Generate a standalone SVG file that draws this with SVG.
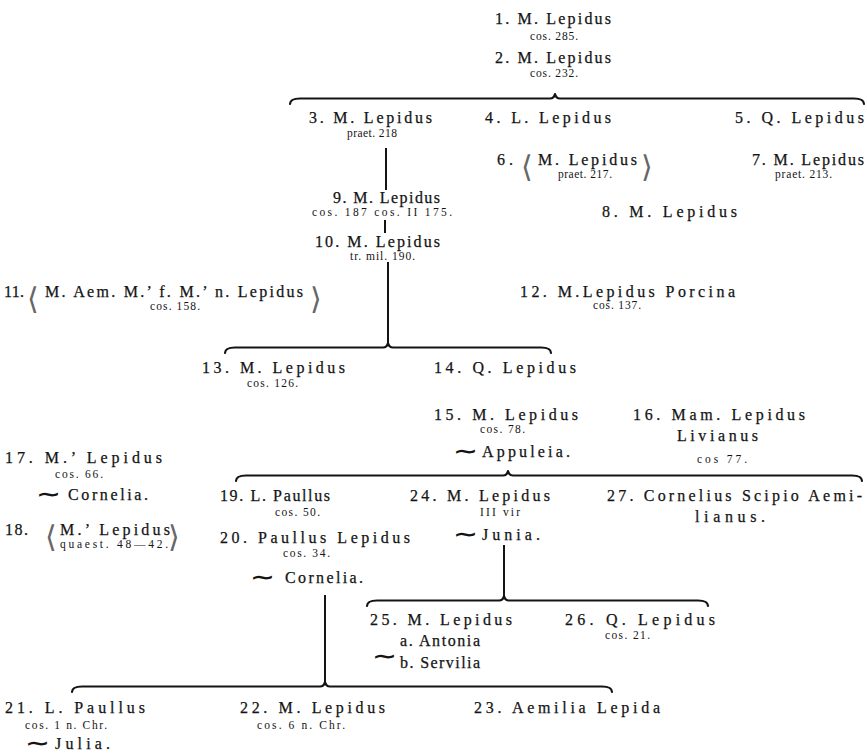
<svg xmlns="http://www.w3.org/2000/svg" width="867" height="756" viewBox="0 0 867 756">
<style>
.n{font-family:"Liberation Serif","DejaVu Serif",serif;font-size:16px;fill:#141414;stroke:#141414;stroke-width:0.25}
.s{font-family:"Liberation Serif","DejaVu Serif",serif;font-size:11.5px;fill:#141414}
.br{font-family:"DejaVu Sans",sans-serif;font-size:30px;font-weight:200;fill:#666}
.t{font-family:"DejaVu Sans",sans-serif;font-size:20px;font-weight:bold;fill:#141414}
.c{fill:none;stroke:#141414;stroke-width:2.2;stroke-linecap:round;stroke-linejoin:round}
.v{fill:none;stroke:#141414;stroke-width:2}
</style>
<rect width="867" height="756" fill="#fff"/>
<g id="connectors">
<path class="c" d="M290,104 Q290,98.5 300,98.5 L550,98.5 Q554,98.5 555,94 Q556,98.5 560,98.5 L854,98.5 Q864,98.5 864,104"/>
<line class="v" x1="386" y1="148" x2="386" y2="190"/>
<line class="v" x1="385" y1="220" x2="385" y2="233"/>
<line class="v" x1="388" y1="262" x2="388" y2="343"/>
<path class="c" d="M225,353 Q225,347.5 235,347.5 L383,347.5 Q387,347.5 388,343 Q389,347.5 393,347.5 L541,347.5 Q551,347.5 551,353"/>
<path class="c" d="M236,481 Q236,475.5 246,475.5 L503,475.5 Q507,475.5 508,471 Q509,475.5 513,475.5 L852,475.5 Q862,475.5 862,481"/>
<line class="v" x1="504" y1="545" x2="504" y2="596"/>
<path class="c" d="M367,606 Q367,600.5 377,600.5 L499,600.5 Q503,600.5 504,596 Q505,600.5 509,600.5 L698,600.5 Q708,600.5 708,606"/>
<line class="v" x1="325" y1="595" x2="325" y2="682"/>
<path class="c" d="M72,692 Q72,686.5 82,686.5 L320,686.5 Q324,686.5 325,682 Q326,686.5 330,686.5 L602,686.5 Q612,686.5 612,692"/>
</g>
<g id="n1"><text class="n" x="495" y="24" textLength="116">1. M. Lepidus</text><text class="s" x="530" y="40" textLength="48">cos. 285.</text></g>
<g id="n2"><text class="n" x="495" y="63" textLength="116">2. M. Lepidus</text><text class="s" x="530" y="77" textLength="48">cos. 232.</text></g>
<g id="n3"><text class="n" x="309" y="123" textLength="123">3. M. Lepidus</text><text class="s" x="347" y="137" textLength="50">praet. 218</text></g>
<g id="n4"><text class="n" x="485" y="123" textLength="126">4. L. Lepidus</text></g>
<g id="n5"><text class="n" x="735" y="123" textLength="129">5. Q. Lepidus</text></g>
<g id="n6"><text class="n" x="497" y="165" textLength="16">6.</text><text class="br" x="521" y="177">⟨</text><text class="n" x="538" y="165" textLength="99">M. Lepidus</text><text class="s" x="558" y="178" textLength="54">praet. 217.</text><text class="br" x="641" y="177">⟩</text></g>
<g id="n7"><text class="n" x="752" y="165" textLength="112">7. M. Lepidus</text><text class="s" x="775" y="178" textLength="57">praet. 213.</text></g>
<g id="n8"><text class="n" x="602" y="217" textLength="135">8. M. Lepidus</text></g>
<g id="n9"><text class="n" x="333" y="203" textLength="107">9. M. Lepidus</text><text class="s" x="312" y="216" textLength="140">cos. 187 cos. II 175.</text></g>
<g id="n10"><text class="n" x="315" y="247" textLength="125">10. M. Lepidus</text><text class="s" x="350" y="260" textLength="65">tr. mil. 190.</text></g>
<g id="n11"><text class="n" x="4" y="297" textLength="20">11.</text><text class="br" x="27" y="309">⟨</text><text class="n" x="45" y="297" textLength="258">M. Aem. M.’ f. M.’ n. Lepidus</text><text class="s" x="150" y="310" textLength="50">cos. 158.</text><text class="br" x="310" y="309">⟩</text></g>
<g id="n12"><text class="n" x="520" y="297" textLength="215">12. M.Lepidus Porcina</text><text class="s" x="593" y="309" textLength="48">cos. 137.</text></g>
<g id="n13"><text class="n" x="202" y="373" textLength="143">13. M. Lepidus</text><text class="s" x="247" y="387" textLength="51">cos. 126.</text></g>
<g id="n14"><text class="n" x="434" y="373" textLength="142">14. Q. Lepidus</text></g>
<g id="n15"><text class="n" x="434" y="420" textLength="144">15. M. Lepidus</text><text class="s" x="480" y="433" textLength="45">cos. 78.</text><text class="t" transform="translate(453,458) scale(1.5,1)">∼</text><text class="n" x="482" y="457" textLength="88">Appuleia.</text></g>
<g id="n16"><text class="n" x="633" y="420" textLength="172">16. Mam. Lepidus</text><text class="n" x="677" y="441" textLength="81">Livianus</text><text class="s" x="697" y="463" textLength="50">cos 77.</text></g>
<g id="n17"><text class="n" x="5" y="463" textLength="157">17. M.’ Lepidus</text><text class="s" x="55" y="478" textLength="48">cos. 66.</text><text class="t" transform="translate(36,501) scale(1.5,1)">∼</text><text class="n" x="68" y="500" textLength="80">Cornelia.</text></g>
<g id="n18"><text class="n" x="5" y="535" textLength="23">18.</text><text class="br" x="45" y="547">⟨</text><text class="n" x="60" y="535" textLength="110">M.’ Lepidus</text><text class="s" x="60" y="548" textLength="108">quaest. 48—42.</text><text class="br" x="168" y="547">⟩</text></g>
<g id="n19"><text class="n" x="220" y="501" textLength="110">19. L. Paullus</text><text class="s" x="275" y="516" textLength="45">cos. 50.</text></g>
<g id="n20"><text class="n" x="220" y="543" textLength="190">20. Paullus Lepidus</text><text class="s" x="283" y="557" textLength="47">cos. 34.</text><text class="t" transform="translate(250,584) scale(1.5,1)">∼</text><text class="n" x="285" y="583" textLength="78">Cornelia.</text></g>
<g id="n24"><text class="n" x="410" y="501" textLength="140">24. M. Lepidus</text><text class="s" x="480" y="516" textLength="40">III vir</text><text class="t" transform="translate(453,541) scale(1.5,1)">∼</text><text class="n" x="482" y="540" textLength="58">Junia.</text></g>
<g id="n27"><text class="n" x="607" y="501" textLength="255">27. Cornelius Scipio Aemi-</text><text class="n" x="695" y="522" textLength="70">lianus.</text></g>
<g id="n25"><text class="n" x="370" y="625" textLength="142">25. M. Lepidus</text><text class="n" x="400" y="646" textLength="80">a. Antonia</text><text class="n" x="400" y="668" textLength="80">b. Servilia</text><text class="t" transform="translate(372,663) scale(1.5,1)">∼</text></g>
<g id="n26"><text class="n" x="565" y="625" textLength="150">26. Q. Lepidus</text><text class="s" x="605" y="639" textLength="45">cos. 21.</text></g>
<g id="n21"><text class="n" x="5" y="713" textLength="140">21. L. Paullus</text><text class="s" x="25" y="729" textLength="82">cos. 1 n. Chr.</text><text class="t" transform="translate(25,750) scale(1.5,1)">∼</text><text class="n" x="55" y="749" textLength="55">Julia.</text></g>
<g id="n22"><text class="n" x="240" y="713" textLength="145">22. M. Lepidus</text><text class="s" x="257" y="729" textLength="88">cos. 6 n. Chr.</text></g>
<g id="n23"><text class="n" x="474" y="713" textLength="186">23. Aemilia Lepida</text></g>
</svg>
